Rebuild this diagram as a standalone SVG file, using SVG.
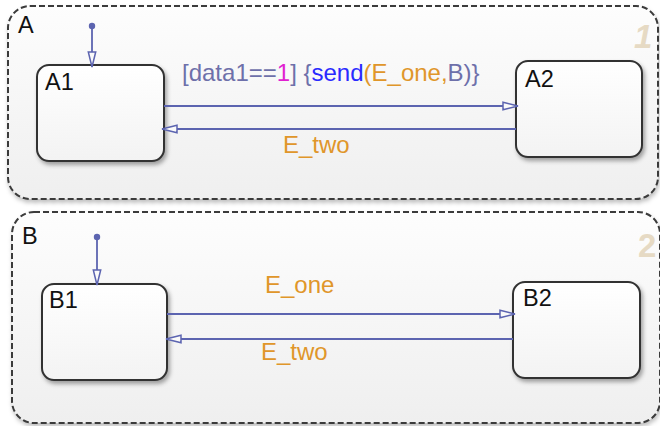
<svg xmlns="http://www.w3.org/2000/svg" width="660" height="426" viewBox="0 0 660 426">
<defs>
<linearGradient id="gOuter" x1="0" y1="0" x2="0" y2="1">
<stop offset="0" stop-color="#fdfdfd"/>
<stop offset="1" stop-color="#efefef"/>
</linearGradient>
<linearGradient id="gInner" x1="0" y1="0" x2="0" y2="1">
<stop offset="0" stop-color="#ffffff"/>
<stop offset="1" stop-color="#f3f3f3"/>
</linearGradient>
<filter id="sh" x="-10%" y="-10%" width="130%" height="130%">
<feDropShadow dx="2" dy="3" stdDeviation="2" flood-color="#000" flood-opacity="0.35"/>
</filter>
<filter id="shO" x="-5%" y="-5%" width="110%" height="115%">
<feDropShadow dx="1" dy="3" stdDeviation="2" flood-color="#000" flood-opacity="0.25"/>
</filter>
<marker id="arr" viewBox="0 0 17 10" refX="16" refY="5" markerWidth="17" markerHeight="10" markerUnits="userSpaceOnUse" orient="auto">
<path d="M1,1.3 L16,5 L1,8.7 Z" fill="#fafafa" stroke="#5c64b0" stroke-width="1.5"/>
</marker>
</defs>
<style>
.outer{fill:url(#gOuter);stroke:#3a3a3a;stroke-width:2;stroke-dasharray:6 3;filter:url(#shO)}
.inner{fill:url(#gInner);stroke:#333;stroke-width:2;filter:url(#sh)}
.lbl{font-family:"Liberation Sans",Arial,sans-serif;font-size:23.5px;fill:#111}
.num{font-family:"Liberation Sans",Arial,sans-serif;font-size:33px;font-weight:bold;fill:#e6dac4}
.ev{font-family:"Liberation Sans",Arial,sans-serif;font-size:24px;fill:#e0962a}
.tr{fill:none;stroke:#5c64b0;stroke-width:1.8;marker-end:url(#arr)}
.dot{fill:#5c64b0}
</style>
<g id="A">
<rect class="outer" x="8" y="6" width="650" height="193" rx="22"/>
<text class="lbl" x="18" y="33">A</text>
<text class="num" x="634" y="48" font-style="italic">1</text>
</g>
<g id="B">
<rect class="outer" x="12" y="212" width="648" height="211" rx="22"/>
<text class="lbl" x="22" y="244">B</text>
<text class="num" x="638" y="257">2</text>
</g>
<g id="A1">
<rect class="inner" x="37" y="65" width="127" height="96" rx="12"/>
<text class="lbl" x="45" y="90">A1</text>
</g>
<g id="A2">
<rect class="inner" x="516" y="61" width="126" height="96" rx="12"/>
<text class="lbl" x="525" y="87">A2</text>
</g>
<g id="B1">
<rect class="inner" x="42" y="284" width="125" height="96" rx="12"/>
<text class="lbl" x="49" y="308">B1</text>
</g>
<g id="B2">
<rect class="inner" x="513" y="282" width="127" height="96" rx="12"/>
<text class="lbl" x="523" y="306">B2</text>
</g>
<g id="connectors">
<circle class="dot" cx="92" cy="26" r="3.2"/>
<path class="tr" d="M92,26 L92,67"/>
<circle class="dot" cx="97" cy="237" r="3.2"/>
<path class="tr" d="M97,237 L97,285"/>
<path class="tr" d="M164,106 L518,106"/>
<path class="tr" d="M516,129 L162,129"/>
<path class="tr" d="M167,314 L515,314"/>
<path class="tr" d="M513,339 L166,339"/>
</g>
<g id="labels" font-family="'Liberation Sans',Arial,sans-serif" font-size="24">
<text x="182" y="81" fill="#6e70aa">[data1==<tspan fill="#e020d0">1</tspan>] {<tspan fill="#2a2aff">send</tspan><tspan fill="#e0962a">(E_one,</tspan><tspan fill="#6e70aa">B)}</tspan></text>
<text class="ev" x="283" y="153">E_two</text>
<text class="ev" x="265" y="293">E_one</text>
<text class="ev" x="261" y="360">E_two</text>
</g>
</svg>
